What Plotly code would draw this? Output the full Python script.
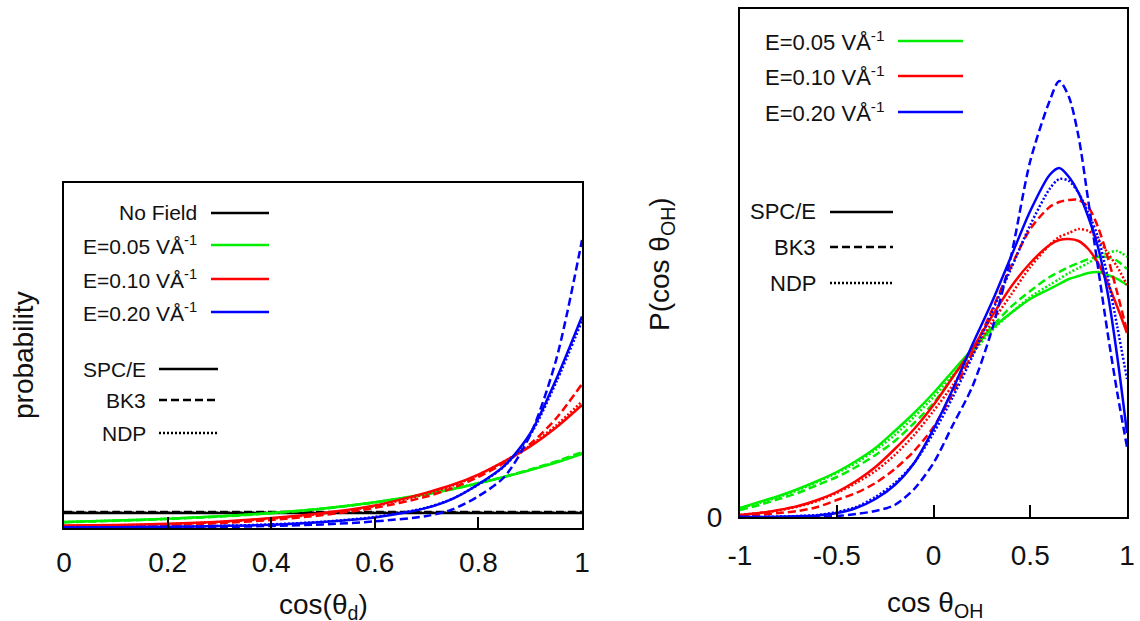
import plotly.graph_objects as go

# ---------------- Left panel: P(cos theta_d) ----------------
x_left = [0, 0.1, 0.2, 0.3, 0.4, 0.5, 0.6, 0.7, 0.75, 0.8, 0.85, 0.9, 0.95, 1.0]
nofield_spce = [0.5] * 14
nofield_bk3 = [0.53] * 14
nofield_ndp = [0.51] * 14
g_spce_l = [0.20, 0.25, 0.31, 0.39, 0.50, 0.65, 0.86, 1.13, 1.30, 1.49, 1.70, 1.93, 2.18, 2.47]
g_bk3_l = [0.19, 0.24, 0.30, 0.38, 0.49, 0.64, 0.85, 1.12, 1.29, 1.49, 1.71, 1.95, 2.22, 2.53]
g_ndp_l = [0.20, 0.25, 0.31, 0.39, 0.50, 0.65, 0.86, 1.13, 1.30, 1.50, 1.71, 1.94, 2.20, 2.50]
r_spce_l = [0.08, 0.10, 0.14, 0.21, 0.33, 0.50, 0.75, 1.18, 1.44, 1.78, 2.22, 2.72, 3.35, 4.10]
r_bk3_l = [0.05, 0.07, 0.10, 0.16, 0.27, 0.43, 0.67, 1.05, 1.33, 1.70, 2.18, 2.80, 3.65, 4.80]
r_ndp_l = [0.07, 0.09, 0.13, 0.20, 0.31, 0.48, 0.73, 1.14, 1.41, 1.77, 2.22, 2.75, 3.42, 4.22]
b_spce_l = [0.02, 0.025, 0.04, 0.07, 0.11, 0.20, 0.35, 0.67, 0.97, 1.46, 2.07, 3.15, 4.95, 7.05]
b_bk3_l = [0.005, 0.008, 0.015, 0.03, 0.07, 0.12, 0.22, 0.40, 0.62, 1.06, 1.70, 3.10, 5.60, 9.60]
b_ndp_l = [0.02, 0.025, 0.04, 0.07, 0.12, 0.21, 0.37, 0.68, 0.98, 1.45, 2.06, 3.10, 4.85, 6.90]

# ---------------- Right panel: P(cos theta_OH) ----------------
x_right = [-1.0, -0.9, -0.8, -0.7, -0.6, -0.5, -0.4, -0.3, -0.2, -0.1, 0.0, 0.1, 0.2, 0.3,
           0.4, 0.5, 0.6, 0.65, 0.7, 0.75, 0.8, 0.85, 0.9, 0.95, 1.0]
g_spce_r = [0.045, 0.075, 0.105, 0.14, 0.18, 0.225, 0.28, 0.345, 0.43, 0.52, 0.62, 0.73, 0.84, 0.94,
            1.02, 1.09, 1.14, 1.165, 1.19, 1.205, 1.22, 1.225, 1.21, 1.19, 1.16]
g_bk3_r = [0.035, 0.06, 0.09, 0.12, 0.16, 0.20, 0.25, 0.31, 0.38, 0.47, 0.57, 0.70, 0.83, 0.95,
           1.05, 1.13, 1.20, 1.225, 1.25, 1.27, 1.29, 1.30, 1.30, 1.28, 1.24]
g_ndp_r = [0.045, 0.07, 0.10, 0.135, 0.175, 0.22, 0.27, 0.335, 0.41, 0.50, 0.60, 0.71, 0.82, 0.93,
           1.02, 1.10, 1.16, 1.19, 1.22, 1.245, 1.27, 1.30, 1.32, 1.33, 1.30]
r_spce_r = [0.01, 0.02, 0.035, 0.055, 0.085, 0.125, 0.18, 0.25, 0.34, 0.44, 0.56, 0.70, 0.84, 1.00,
            1.15, 1.27, 1.36, 1.385, 1.39, 1.38, 1.34, 1.27, 1.17, 1.05, 0.92]
r_bk3_r = [0.005, 0.01, 0.02, 0.03, 0.05, 0.085, 0.12, 0.17, 0.24, 0.33, 0.45, 0.62, 0.82, 1.03,
           1.25, 1.44, 1.55, 1.575, 1.585, 1.585, 1.55, 1.45, 1.30, 1.12, 0.93]
r_ndp_r = [0.01, 0.02, 0.033, 0.052, 0.08, 0.12, 0.17, 0.23, 0.31, 0.41, 0.53, 0.66, 0.81, 0.97,
           1.11, 1.25, 1.36, 1.40, 1.42, 1.44, 1.43, 1.39, 1.32, 1.25, 1.16]
b_spce_r = [0.0, 0.0, 0.001, 0.004, 0.008, 0.02, 0.045, 0.09, 0.16, 0.27, 0.44, 0.64, 0.86, 1.07,
            1.30, 1.53, 1.71, 1.745, 1.70, 1.62, 1.50, 1.35, 1.12, 0.80, 0.42]
b_bk3_r = [0.0, 0.0, 0.0, 0.0, 0.002, 0.005, 0.015, 0.03, 0.06, 0.14, 0.27, 0.46, 0.65, 0.93,
           1.30, 1.78, 2.08, 2.18, 2.10, 1.90, 1.58, 1.25, 0.92, 0.62, 0.35]
b_ndp_r = [0.0, 0.0, 0.002, 0.005, 0.01, 0.025, 0.05, 0.10, 0.17, 0.27, 0.42, 0.60, 0.80, 1.02,
           1.24, 1.46, 1.64, 1.69, 1.68, 1.62, 1.52, 1.40, 1.20, 0.95, 0.69]

left_xticks = [0, 0.2, 0.4, 0.6, 0.8, 1]
left_xticktext = ["0", "0.2", "0.4", "0.6", "0.8", "1"]
right_xticks = [-1, -0.5, 0, 0.5, 1]
right_xticktext = ["-1", "-0.5", "0", "0.5", "1"]

field_labels = ["No Field", "E=0.05 VÅ<sup>-1</sup>", "E=0.10 VÅ<sup>-1</sup>", "E=0.20 VÅ<sup>-1</sup>"]
model_labels = ["SPC/E", "BK3", "NDP"]

FONT = "Liberation Sans, Arial, sans-serif"
GREEN, RED, BLUE, BLACK = "#00ee00", "#ff0000", "#0000ff", "#000000"
DASHES = {"SPC/E": "solid", "BK3": "8px,4px", "NDP": "2px,2px"}
W, H = 1140, 621

fig = go.Figure()

def add(x, y, color, model, xa, ya):
    fig.add_trace(go.Scatter(x=x, y=y, mode="lines", xaxis=xa, yaxis=ya, showlegend=False,
                             line=dict(color=color, width=2.5, dash=DASHES[model], shape="spline", smoothing=0.8),
                             hoverinfo="skip"))

add(x_left, nofield_ndp, BLACK, "NDP", "x", "y")
add(x_left, nofield_bk3, BLACK, "BK3", "x", "y")
add(x_left, nofield_spce, BLACK, "SPC/E", "x", "y")
for col, s, d, n in [(GREEN, g_spce_l, g_bk3_l, g_ndp_l), (RED, r_spce_l, r_bk3_l, r_ndp_l),
                     (BLUE, b_spce_l, b_bk3_l, b_ndp_l)]:
    add(x_left, n, col, "NDP", "x", "y")
    add(x_left, d, col, "BK3", "x", "y")
    add(x_left, s, col, "SPC/E", "x", "y")

for col, s, d, n in [(GREEN, g_spce_r, g_bk3_r, g_ndp_r), (RED, r_spce_r, r_bk3_r, r_ndp_r),
                     (BLUE, b_spce_r, b_bk3_r, b_ndp_r)]:
    add(x_right, n, col, "NDP", "x2", "y2")
    add(x_right, d, col, "BK3", "x2", "y2")
    add(x_right, s, col, "SPC/E", "x2", "y2")

def px_x(p):
    return p / W

def px_y(p):
    return (H - p) / H

tickfont = dict(family=FONT, size=28, color="#111")
common = dict(showline=True, linewidth=2, linecolor="black", mirror=True, showgrid=False, zeroline=False,
              automargin=False)

fig.update_layout(
    width=W, height=H, autosize=False,
    margin=dict(l=0, r=0, t=0, b=0, pad=0),
    paper_bgcolor="white", plot_bgcolor="white",
    xaxis=dict(domain=[px_x(64), px_x(582)], range=[0, 1], tickvals=left_xticks, ticktext=left_xticktext,
               ticks="inside", ticklen=11, tickwidth=2, tickcolor="black", tickfont=tickfont,
               ticklabelstandoff=8, anchor="y", **common),
    yaxis=dict(domain=[px_y(528), px_y(183)], range=[0, 345 / 30], showticklabels=False, ticks="",
               anchor="x", **common),
    xaxis2=dict(domain=[px_x(740), px_x(1127)], range=[-1, 1], tickvals=right_xticks, ticktext=right_xticktext,
                ticks="inside", ticklen=12, tickwidth=2, tickcolor="black", tickfont=tickfont,
                ticklabelstandoff=12, anchor="y2", **common),
    yaxis2=dict(domain=[px_y(517), px_y(9)], range=[0, 508 / 200], tickvals=[0], ticktext=["0"],
                ticks="", tickfont=tickfont, ticklabelstandoff=10, anchor="x2", **common),
)

annos = []
shapes = []

def legend_entry(text, right_px, y_px, x0_px, x1_px, color, dash, size):
    annos.append(dict(text=text, x=px_x(right_px), y=px_y(y_px), xref="paper", yref="paper",
                      xanchor="right", yanchor="middle", showarrow=False,
                      font=dict(family=FONT, size=size, color="#111")))
    shapes.append(dict(type="line", xref="paper", yref="paper", x0=px_x(x0_px), x1=px_x(x1_px),
                       y0=px_y(y_px), y1=px_y(y_px), line=dict(color=color, width=2.5, dash=dash)))

left_field_colors = [BLACK, GREEN, RED, BLUE]
left_field_y = [213, 245, 279, 312]
for lab, col, yy in zip(field_labels, left_field_colors, left_field_y):
    legend_entry(lab, 199, yy, 211, 269, col, "solid", 21)
left_model_y = [369, 400, 433]
for lab, yy in zip(model_labels, left_model_y):
    legend_entry(lab, 148, yy, 159, 218, BLACK, DASHES[lab], 21)

right_field_y = [41, 76, 112]
for lab, col, yy in zip(field_labels[1:], [GREEN, RED, BLUE], right_field_y):
    legend_entry(lab, 887, yy, 898, 963, col, "solid", 22)
right_model_y = [212, 247, 283]
for lab, yy in zip(model_labels, right_model_y):
    legend_entry(lab, 818, yy, 830, 893, BLACK, DASHES[lab], 22)

title_font = dict(family=FONT, size=28, color="#111")
annos.append(dict(text="cos(θ<sub>d</sub>)", x=px_x(323), y=px_y(606), xref="paper", yref="paper",
                  xanchor="center", yanchor="middle", showarrow=False, font=title_font))
annos.append(dict(text="cos θ<sub>OH</sub>", x=px_x(935), y=px_y(604), xref="paper", yref="paper",
                  xanchor="center", yanchor="middle", showarrow=False, font=title_font))
annos.append(dict(text="probability", x=px_x(23), y=px_y(355), xref="paper", yref="paper",
                  xanchor="center", yanchor="middle", textangle=-90, showarrow=False, font=title_font))
annos.append(dict(text="P(cos θ<sub>OH</sub>)", x=px_x(661), y=px_y(264), xref="paper", yref="paper",
                  xanchor="center", yanchor="middle", textangle=-90, showarrow=False, font=title_font))

fig.update_layout(annotations=annos, shapes=shapes)
fig.write_html("out.html")
